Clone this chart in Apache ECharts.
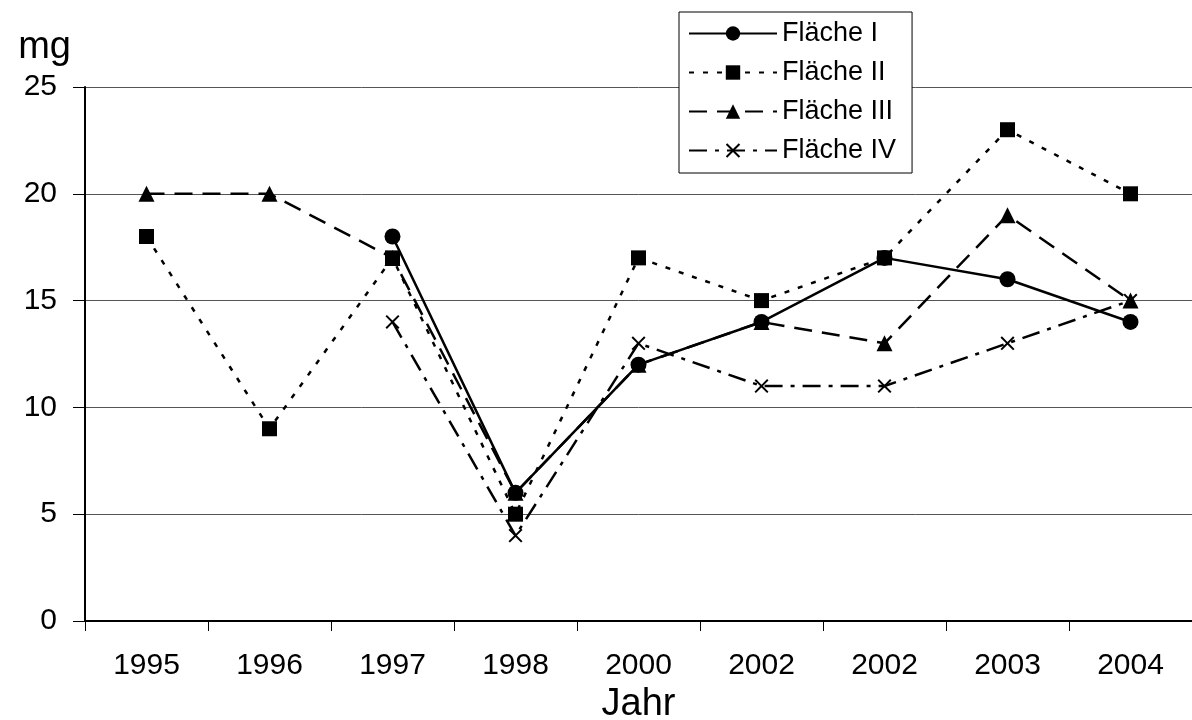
<!DOCTYPE html>
<html>
<head>
<meta charset="utf-8">
<script src="https://cdn.jsdelivr.net/npm/echarts@6/dist/echarts.min.js"></script>
<style>
html, body { margin: 0; padding: 0; background: #fff; }
#chart { width: 1192px; height: 720px; }
</style>
</head>
<body>
<div id="chart"></div>
<script>
var jahre = ['1995', '1996', '1997', '1998', '2000', '2002', '2002', '2003', '2004'];
var flaeche1 = [null, null, 18, 6, 12, 14, 17, 16, 14];
var flaeche2 = [18, 9, 17, 5, 17, 15, 17, 23, 20];
var flaeche3 = [20, 20, 17, 6, 12, 14, 13, 19, 15];
var flaeche4 = [null, null, 14, 4, 13, 11, 11, 13, 15];
var yTicks = [0, 5, 10, 15, 20, 25];

// Kreuz-Symbol als gefüllter Pfad
var kreuz = 'path://M0,2L2,0L10,8L18,0L20,2L12,10L20,18L18,20L10,12L2,20L0,18L8,10Z';

function serie(name, data, symbol, size, dash) {
    return {
        name: name,
        type: 'line',
        data: data,
        symbol: symbol,
        symbolSize: size,
        showAllSymbol: true,
        connectNulls: false,
        itemStyle: { color: '#000' },
        lineStyle: { color: '#000', width: 2.5, type: dash },
        emphasis: { disabled: true },
        z: 3
    };
}

document.addEventListener('DOMContentLoaded', function () {
    var chart = echarts.init(document.getElementById('chart'));

    var option = {
        animation: false,
        textStyle: { fontFamily: 'Liberation Sans, Arial, sans-serif', color: '#000' },
        grid: { left: 85, right: 0, top: 87, bottom: 99, containLabel: false, outerBoundsMode: 'none' },
        legend: {
            left: 679,
            top: 12,
            orient: 'vertical',
            itemWidth: 88,
            itemHeight: 18,
            itemGap: 12,
            padding: [8, 16, 9, 9],
            backgroundColor: '#fff',
            borderColor: '#000',
            borderWidth: 1,
            selectedMode: false,
            textStyle: { fontSize: 27, color: '#000', fontFamily: 'Liberation Sans, Arial, sans-serif' },
            data: ['Fläche I', 'Fläche II', 'Fläche III', 'Fläche IV']
        },
        xAxis: {
            type: 'category',
            data: jahre,
            boundaryGap: true,
            name: 'Jahr',
            nameLocation: 'middle',
            nameGap: 58,
            nameTextStyle: { fontSize: 38, color: '#000' },
            axisLine: { lineStyle: { color: '#000', width: 2 } },
            axisTick: { show: true, length: 10, lineStyle: { color: '#000', width: 1 } },
            axisLabel: { fontSize: 30, color: '#000', margin: 30 }
        },
        yAxis: {
            type: 'value',
            min: yTicks[0],
            max: yTicks[yTicks.length - 1],
            interval: 5,
            name: 'mg',
            nameLocation: 'end',
            nameGap: 20,
            nameTextStyle: { fontSize: 38, color: '#000', align: 'right', padding: [0, 14, 0, 0] },
            axisLine: { show: true, lineStyle: { color: '#000', width: 2 } },
            axisTick: { show: true, length: 12, lineStyle: { color: '#000', width: 1 } },
            axisLabel: { fontSize: 30, color: '#000', margin: 28 },
            splitLine: { show: true, lineStyle: { color: '#555', width: 1 } }
        },
        series: [
            serie('Fläche I', flaeche1, 'circle', 16, 'solid'),
            serie('Fläche II', flaeche2, 'rect', 15, [5, 9]),
            serie('Fläche III', flaeche3, 'triangle', 16, [18, 10]),
            serie('Fläche IV', flaeche4, kreuz, 14, [18, 8, 4, 8])
        ]
    };

    try {
        chart.setOption(option);
    } catch (error) {
        console.error('Error setting the chart option:', error);
    }
});
</script>
</body>
</html>
